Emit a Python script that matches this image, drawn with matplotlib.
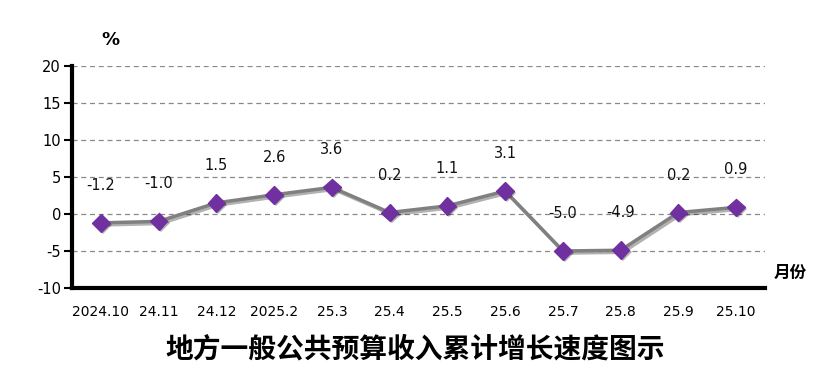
import matplotlib

matplotlib.use("Agg")
import matplotlib.pyplot as plt
import matplotlib.patheffects as pe

plt.rcParams["font.family"] = ["Noto Sans CJK SC", "DejaVu Sans"]

months = ["2024.10", "24.11", "24.12", "2025.2", "25.3", "25.4", "25.5", "25.6",
          "25.7", "25.8", "25.9", "25.10"]
growth = [-1.2, -1.0, 1.5, 2.6, 3.6, 0.2, 1.1, 3.1, -5.0, -4.9, 0.2, 0.9]
yticks = [-10, -5, 0, 5, 10, 15, 20]

fig = plt.figure(figsize=(8.34, 3.81), dpi=100)
ax = fig.add_axes([72 / 834, 1 - 288 / 381, 693 / 834, 222 / 381])

x = list(range(len(months)))
ax.plot(x, growth, color="#808080", lw=2.5, zorder=3,
        path_effects=[pe.SimpleLineShadow(offset=(1.5, -1.5), shadow_color="black", alpha=0.3),
                      pe.Normal()])
ax.plot(x, growth, ls="none", marker="D", ms=9, color="#7030A0",
        markeredgecolor="#7030A0", zorder=4,
        path_effects=[pe.SimplePatchShadow(offset=(1.5, -1.5), shadow_rgbFace="black", alpha=0.3),
                      pe.Normal()])

for xi, v in zip(x, growth):
    ax.annotate(f"{v:.1f}", (xi, v), xytext=(0, 27), textcoords="offset points",
                ha="center", va="center", fontsize=10.5, family="DejaVu Sans", color="#111111")

ax.set_xlim(-0.5, len(months) - 0.5)
ax.set_ylim(-10, 20)
ax.set_yticks(yticks)
ax.set_yticklabels([str(t) for t in yticks], fontsize=10.5, family="DejaVu Sans")
ax.set_xticks(x)
ax.set_xticklabels(months, fontsize=10, family="DejaVu Sans")
ax.tick_params(axis="y", length=6, width=1.5, direction="out", pad=2)
ax.tick_params(axis="x", length=0, pad=12)

for t in yticks[1:]:
    ax.axhline(t, color="#888888", lw=0.9, ls=(0, (4, 3)), zorder=1)

for s in ["top", "right"]:
    ax.spines[s].set_visible(False)
ax.spines["left"].set_linewidth(3)
ax.spines["bottom"].set_linewidth(3)

fig.text(110 / 834, 1 - 40 / 381, "%", fontsize=13, fontweight="bold",
         ha="center", va="center", family="DejaVu Sans")
fig.text(790 / 834, 1 - 273 / 381, "月份", fontsize=12, fontweight="bold",
         ha="center", va="center")
fig.text(415 / 834, 1 - 349 / 381, "地方一般公共预算收入累计增长速度图示", fontsize=20,
         fontweight="bold", ha="center", va="center")

fig.savefig("out.png", dpi=100)
